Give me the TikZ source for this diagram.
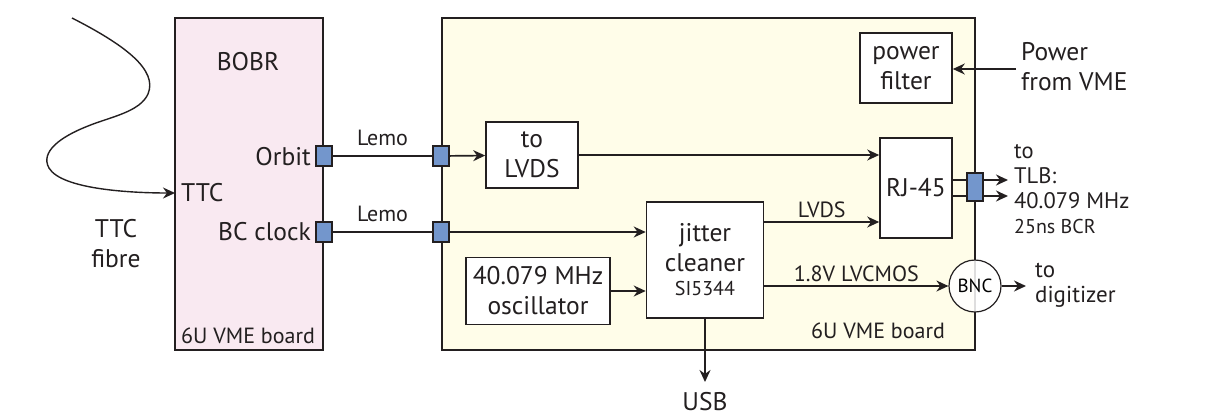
\documentclass[tikz,border=0pt]{standalone}
\usepackage{fontspec}
\setmainfont{PT Sans}
\usetikzlibrary{arrows.meta}
\definecolor{ink}{HTML}{231F20}
\definecolor{bobrpink}{HTML}{F9E9F1}
\definecolor{boardcream}{HTML}{FFFDE9}
\definecolor{connblue}{HTML}{7396CC}
\begin{document}
\begin{tikzpicture}[x=1pt, y=-1pt,
    board/.style={draw=ink, line width=1.6pt, inner sep=0pt},
    box/.style={draw=ink, fill=white, line width=1.6pt, align=center,
                inner sep=0pt, font=\fontsize{25.5}{30}\selectfont, text=ink},
    conn/.style={draw=ink, fill=connblue, line width=1.4pt,
                 minimum width=16pt, minimum height=20pt, inner sep=0pt},
    arr/.style={-{Stealth[length=12pt, width=11pt]}, line width=1.7pt, draw=ink},
    wire/.style={line width=1.7pt, draw=ink},
    lbl/.style={font=\fontsize{25.5}{30}\selectfont, text=ink, inner sep=0pt},
    small/.style={font=\fontsize{22}{24}\selectfont, text=ink, inner sep=0pt}
  ]
    \useasboundingbox (0,0) rectangle (1208,416);

    % boards
    \node[board, fill=bobrpink, minimum width=148pt, minimum height=332pt]
         (bobr)  at (249,184) {};
    \node[board, fill=boardcream, minimum width=533pt, minimum height=332pt]
         (board) at (708.5,184) {};

    \node[lbl]              (bobrtitle) at (248,62)  {BOBR};
    \node[lbl, anchor=east] (orbit)     at (311,157) {Orbit};
    \node[lbl, anchor=west] (ttc)       at (181,193) {TTC};
    \node[lbl, anchor=east] (bcclk)     at (311,232) {BC clock};
    \node[lbl, align=center] (fibre)    at (116,244) {TTC\\fibre};
    \node[small] (bobrname)  at (248,336) {6U VME board};
    \node[small] (boardname) at (878,331) {6U VME board};

    % connectors
    \node[conn] (orbitout) at (324,156) {};
    \node[conn] (bcout)    at (324,232) {};
    \node[conn] (orbitin)  at (441,156) {};
    \node[conn] (bcin)     at (441,232) {};
    \coordinate (rjout) at (975,187);

    % blocks
    \node[box, minimum width=92pt,  minimum height=66pt]  (lvds)   at (532,155) {to\\LVDS};
    \node[box, minimum width=72pt,  minimum height=100pt] (rj)     at (916,188) {RJ-45};
    \node[box, minimum width=117pt, minimum height=116pt] (jitter) at (705,260)
         {jitter\\cleaner\\[-6pt]{\fontsize{20}{22}\selectfont SI5344}};
    \node[box, minimum width=144pt, minimum height=67pt]  (osc)    at (538,291)
         {40.079 MHz\\oscillator};
    \node[box, minimum width=92pt,  minimum height=70pt]  (filter) at (906,68) {power\\filter};
    \node[circle, draw=ink, fill=white, fill opacity=0.85, text opacity=1,
          line width=1.2pt, minimum size=52pt, inner sep=0pt,
          font=\fontsize{19}{20}\selectfont] (bnc) at (975,286) {BNC};

    % outside labels
    \node[lbl, anchor=west, align=left] (vme) at (1021,67) {Power\\from VME};
    \node[inner sep=0pt, anchor=west, align=left, text=ink,
          font=\fontsize{22.5}{25}\selectfont] (tlb) at (1014,189)
         {to\\TLB:\\40.079 MHz\\{\fontsize{20}{22}\selectfont 25ns BCR}};
    \node[lbl, anchor=west, align=left, font=\fontsize{23}{25}\selectfont]
         (digi) at (1035,285) {to\\digitizer};
    \node[lbl] (usb) at (705,402) {USB};
    \coordinate (usbend)  at (705,382);
    \coordinate (tlbtop)  at (1008,180);
    \coordinate (tlbbot)  at (1008,196);
    \coordinate (digiend) at (1026,286);
    \coordinate (vmestart) at (1016,69);
    \coordinate (fibreend) at (175,193);

    % fibre
    \draw[arr, line width=1.4pt] (72,18) .. controls (125,45) and (158,70) .. (148,94)
       .. controls (140,112) and (110,117) .. (88,126)
       .. controls (60,137) and (40,152) .. (49,168)
       .. controls (62,190) and (135,193) .. (fibreend);

    % lemo cables
    \draw[wire] (orbitout) -- node[small, above=9pt] (lemo1) {Lemo} (orbitin);
    \draw[wire] (bcout)    -- node[small, above=9pt] (lemo2) {Lemo} (bcin);

    % signals
    \draw[arr] (orbitin) -- (lvds);
    \draw[arr] (lvds.east) -- (rj.west |- lvds.east);
    \draw[arr] (bcin) -- (jitter.west |- bcin);
    \draw[arr] (osc) -- (jitter.west |- osc);
    \draw[arr] (jitter.east |- 0,222) -- node[small, above=3pt] (lvdslbl) {LVDS}
               (rj.west |- 0,222);
    \draw[arr] (jitter.east |- bnc) -- node[small, above=3pt] (cmos) {1.8V LVCMOS}
               (bnc);
    \draw[arr] (bnc) -- (digiend);
    \draw[arr] (jitter) -- (usbend);
    \draw[arr] (vmestart) -- (filter.east |- vmestart);
    \draw[arr] (rj.east |- tlbtop) -- (tlbtop);
    \draw[arr] (rj.east |- tlbbot) -- (tlbbot);
    \node[conn, minimum height=28pt] (rjconn) at (rjout) {};
  \end{tikzpicture}
\end{document}
